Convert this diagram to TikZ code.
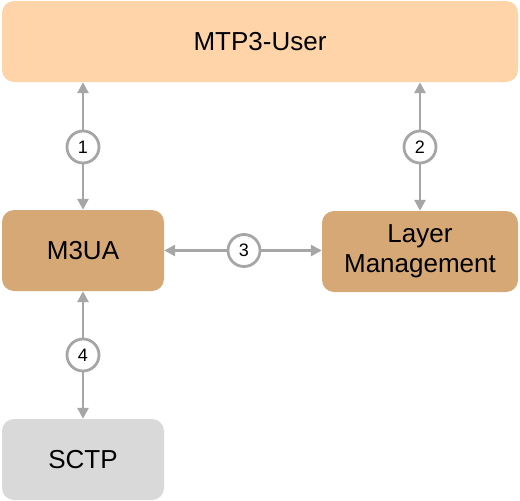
\documentclass[tikz,border=0pt]{standalone}
\usepackage{fontspec}
\setmainfont{Liberation Sans}
\usetikzlibrary{arrows.meta}

\definecolor{userfill}{HTML}{FFD4A8}
\definecolor{layerfill}{HTML}{D5A875}
\definecolor{sctpfill}{HTML}{D9D9D9}
\definecolor{linkgray}{HTML}{A6A6A6}

\tikzset{
  layerbox/.style={shape=rectangle,rounded corners=12pt,inner sep=0pt,
    minimum height=81pt,align=center,font=\fontsize{26}{30}\selectfont},
  link/.style={<->,>={Triangle[length=11pt,width=11pt]},line width=2.8pt,draw=linkgray},
  num/.style={shape=circle,draw=linkgray,line width=2.8pt,fill=white,
    minimum size=32pt,inner sep=0pt,font=\fontsize{18}{20}\selectfont}
}

\begin{document}
\begin{tikzpicture}[x=1pt,y=-1pt]
      \useasboundingbox (0,0) rectangle (520,501);
      \node[layerbox,fill=userfill,minimum width=516pt] (user) at (260,41.5) {MTP3-User};
      \node[layerbox,fill=layerfill,minimum width=162pt] (m3ua) at (83,250.5) {M3UA};
      \node[layerbox,fill=layerfill,minimum width=196pt] (lm) at (420,251.5) {Layer\\Management};
      \node[layerbox,fill=sctpfill,minimum width=162pt] (sctp) at (83,459.5) {SCTP};
      % user <-> m3ua
      \draw[link] (user.south -| m3ua) -- (m3ua.north);
      \node[num] (n1) at (83,147) {1};
      % user <-> layer management
      \draw[link] (user.south -| lm) -- (lm.north);
      \node[num] (n2) at (420,147) {2};
      % m3ua <-> layer management
      \draw[link] (m3ua.east) -- (lm.west |- m3ua.east);
      \node[num] (n3) at (244,250.5) {3};
      % m3ua <-> sctp
      \draw[link] (m3ua.south) -- (sctp.north);
      \node[num] (n4) at (83,355) {4};
    \end{tikzpicture}
\end{document}
